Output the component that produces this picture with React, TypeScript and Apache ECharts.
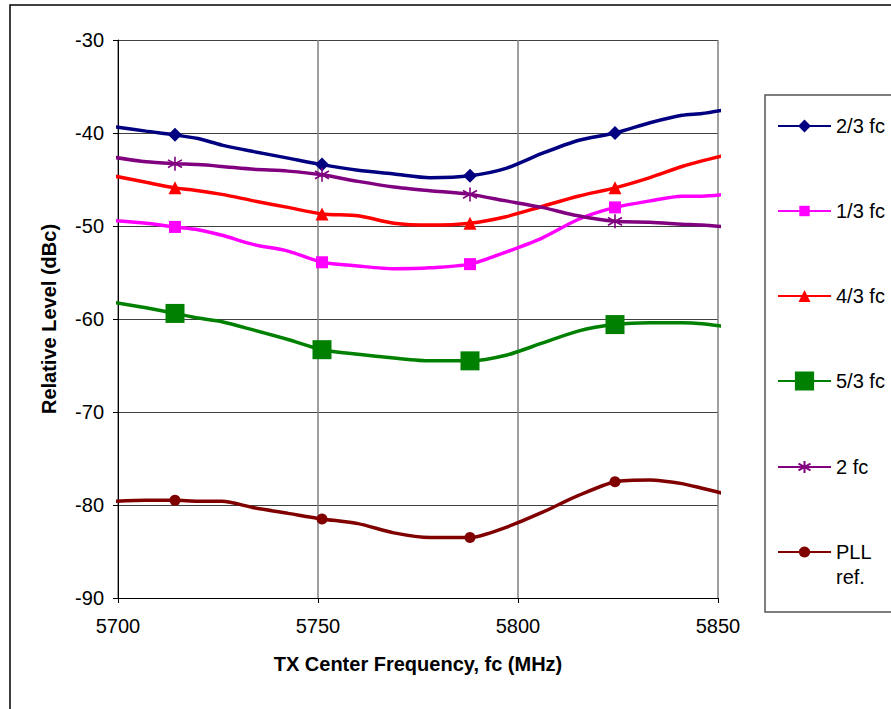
import React, { useEffect, useRef } from "react";
import * as echarts from "echarts";

const freq = [5698.75, 5707, 5714.25, 5720, 5726, 5734, 5742.5, 5751, 5760, 5769, 5778, 5788, 5797, 5806, 5815, 5824.25, 5833, 5841, 5846, 5851.75];
const markerIdx = [2, 7, 11, 15];

const s23 = [-39.3, -39.8, -40.2, -40.6, -41.3, -42.0, -42.7, -43.4, -44.0, -44.4, -44.8, -44.6, -43.8, -42.2, -40.8, -40.0, -38.9, -38.1, -37.9, -37.5];
const s13 = [-49.4, -49.7, -50.1, -50.4, -51.0, -52.0, -52.7, -53.9, -54.3, -54.6, -54.5, -54.1, -52.8, -51.3, -49.3, -48.0, -47.3, -46.8, -46.8, -46.6];
const s43 = [-44.6, -45.3, -45.9, -46.2, -46.6, -47.3, -48.0, -48.7, -48.9, -49.7, -49.9, -49.7, -49.0, -47.9, -46.8, -45.9, -44.8, -43.6, -43.0, -42.4];
const s53 = [-58.2, -58.8, -59.4, -59.9, -60.3, -61.2, -62.2, -63.3, -63.8, -64.2, -64.5, -64.5, -63.9, -62.6, -61.3, -60.6, -60.4, -60.4, -60.5, -60.8];
const s2 = [-42.6, -43.1, -43.3, -43.4, -43.6, -43.9, -44.1, -44.5, -45.2, -45.8, -46.2, -46.6, -47.3, -48.0, -48.9, -49.5, -49.6, -49.8, -49.9, -50.1];
const sPLL = [-79.6, -79.5, -79.5, -79.6, -79.6, -80.3, -80.9, -81.5, -82.0, -83.0, -83.5, -83.5, -82.4, -80.8, -79.0, -77.5, -77.3, -77.7, -78.2, -78.8];

const seriesNames = ["2/3 fc", "1/3 fc", "4/3 fc", "5/3 fc", "2 fc", "PLL ref."];
const xTicks = { min: 5700, max: 5850, interval: 50 };
const yTicks = { min: -90, max: -30, interval: 10 };

const FONT = "'Liberation Sans', Arial, sans-serif";
const ASTERISK = "path://M10,0L10,20M1.5,4.5L18.5,15.5M1.5,15.5L18.5,4.5";

const styles = [
  { color: "#000080", symbol: "diamond", size: 14, legendH: 16, legendY: 126 },
  { color: "#FF00FF", symbol: "rect", size: 12, legendH: 13, legendY: 211 },
  { color: "#FF0000", symbol: "triangle", size: 13, legendH: 15, legendY: 296 },
  { color: "#008000", symbol: "rect", size: 19, legendH: 24, legendY: 382 },
  { color: "#800080", symbol: ASTERISK, size: 14, legendH: 15, legendY: 467 },
  { color: "#800000", symbol: "circle", size: 11, legendH: 14, legendY: 552 },
];

const values = [s23, s13, s43, s53, s2, sPLL];

export default function App() {
  const ref = useRef<HTMLDivElement>(null);
  useEffect(() => {
    if (!ref.current) return;
    const chart = echarts.init(ref.current, null, { renderer: "svg" });
    const series = seriesNames.map((name, k) => {
      const st = styles[k];
      const vals = values[k];
      return {
        name,
        type: "line",
        smooth: 0.25,
        clip: false,
        showSymbol: true,
        showAllSymbol: true,
        symbol: st.symbol,
        symbolSize: st.size,
        lineStyle: { color: st.color, width: 3.5 },
        itemStyle: { color: st.color, borderColor: st.color, borderWidth: k === 4 ? 1.6 : 0 },
        emphasis: { disabled: true },
        data: freq.map((f, i) =>
          markerIdx.includes(i) ? [f, vals[i]] : { value: [f, vals[i]], symbol: "none" }
        ),
      };
    });
    const legends = seriesNames.map((name, k) => {
      const st = styles[k];
      const isPLL = k === 5;
      const lh = isPLL ? 25 : 22;
      const top = isPLL ? st.legendY - 37.5 : st.legendY - Math.max(lh / 2, st.legendH / 2);
      return {
        data: [name],
        orient: "vertical",
        left: 777,
        top,
        padding: 0,
        itemWidth: 53,
        itemHeight: st.legendH,
        selectedMode: false,
        formatter: isPLL ? () => "\nPLL\nref." : undefined,
        textStyle: { fontSize: 20, color: "#000", fontFamily: FONT, lineHeight: lh },
      };
    });
    chart.setOption({
      animation: false,
      backgroundColor: "#fff",
      grid: { left: 118, top: 40, right: 173, bottom: 111, containLabel: false },
      graphic: [
        { type: "rect", shape: { x: 10, y: 5, width: 900, height: 720 }, style: { fill: "none", stroke: "#000", lineWidth: 1.5 }, silent: true },
        { type: "rect", shape: { x: 765, y: 95, width: 200, height: 517 }, style: { fill: "none", stroke: "#555", lineWidth: 1.5 }, silent: true },
      ],
      legend: legends,
      xAxis: {
        type: "value",
        min: xTicks.min,
        max: xTicks.max,
        interval: xTicks.interval,
        name: "TX Center Frequency, fc (MHz)",
        nameLocation: "middle",
        nameGap: 56,
        nameTextStyle: { fontSize: 20, fontWeight: "bold", color: "#000", fontFamily: FONT },
        axisLine: { show: true, onZero: false, lineStyle: { color: "#000", width: 1 } },
        axisTick: { show: true, length: 5, lineStyle: { color: "#000" } },
        axisLabel: { fontSize: 20, color: "#000", fontFamily: FONT, margin: 18, formatter: (v: number) => String(v) },
        splitLine: { show: true, lineStyle: { color: "#808080", width: 1.5 } },
      },
      yAxis: {
        type: "value",
        min: yTicks.min,
        max: yTicks.max,
        interval: yTicks.interval,
        name: "Relative Level (dBc)",
        nameLocation: "middle",
        nameGap: 59,
        nameTextStyle: { fontSize: 20, fontWeight: "bold", color: "#000", fontFamily: FONT },
        axisLine: { show: true, onZero: false, lineStyle: { color: "#000", width: 1 } },
        axisTick: { show: true, length: 5, lineStyle: { color: "#000" } },
        axisLabel: { fontSize: 20, color: "#000", fontFamily: FONT, margin: 14 },
        splitLine: { show: true, lineStyle: { color: "#404040", width: 1 } },
      },
      series,
    });
    return () => chart.dispose();
  }, []);
  return (
    <div
      ref={ref}
      style={{ position: "fixed", left: 0, top: 0, width: 891, height: 709 }}
    />
  );
}
